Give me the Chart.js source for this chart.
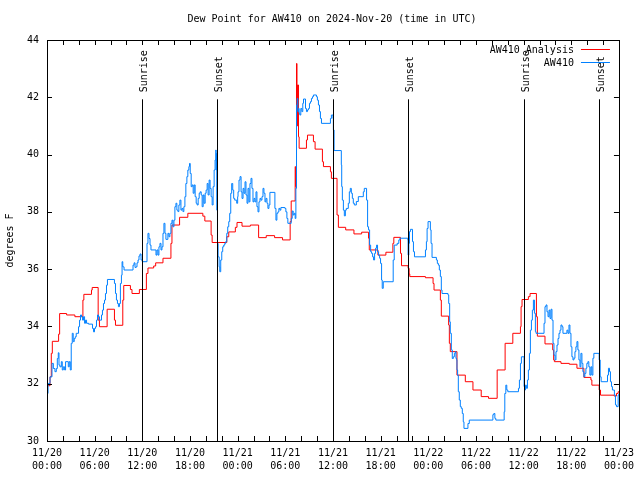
<!DOCTYPE html>
<html>
<head>
<meta charset="utf-8">
<title>Dew Point AW410</title>
<script src="https://cdn.jsdelivr.net/npm/chart.js@4/dist/chart.umd.min.js"></script>
<style>
	html, body { margin: 0; padding: 0; background: #fff; }
	#graph { display: block; }
</style>
</head>
<body>
<canvas id="graph" width="640" height="480"></canvas>
<script>
"use strict";

// hours since 2024-11-20 00:00 UTC, dew point in degrees F

// analysis (red) : [hour, value]
const analysis_points = [
	[0,31.93],[0.38,32.24],[0.54,33.06],[0.67,33.48],[1.46,33.73],[1.59,34.45],[2.47,34.40],[3.51,34.34],
	[4.52,34.92],[4.64,35.12],[5.6,35.27],[5.69,35.36],[6.44,34.22],[6.6,33.99],[7.57,34.6],[8.49,34.22],
	[8.62,34.04],[9.54,34.92],[9.66,35.43],[10.5,35.29],[10.7,35.15],[11.63,35.29],[12.51,35.85],[12.71,36.04],
	[13.43,36.11],[13.68,36.22],[14.6,36.38],[15.6,36.9],[15.73,37.54],[16.69,37.81],[17.73,37.95],[19.62,37.85],
	[19.87,37.68],[20.66,37.19],[20.79,36.93],[22.63,37.13],[22.88,37.30],[23.71,37.46],[23.92,37.63],[24.55,37.50],
	[25.6,37.54],[26.64,37.10],[27.6,37.17],[28.65,37.10],[29.65,37.02],[30.61,37.66],[30.74,38.38],[31.24,39.58],
	[31.30,38.88],[31.41,43.18],[31.47,41.0],[31.53,42.43],[31.66,40.62],[31.74,40.22],[32.66,40.51],[32.79,40.68],
	[33.54,40.45],[33.75,40.19],[34.67,39.75],[34.8,39.58],[35.68,39.40],[35.8,39.17],[36.51,37.89],[36.68,37.46],
	[37.6,37.37],[38.64,37.23],[39.61,37.29],[40.48,37.08],[40.57,36.67],[41.66,36.49],[42.66,36.59],[43.54,36.9],
	[43.66,37.11],[44.5,36.55],[44.63,36.12],[45.46,36.03],[45.59,35.83],[45.67,35.74],[47.64,35.70],[48.6,35.50],
	[48.72,35.27],[49.52,34.92],[49.64,34.36],[50.56,34.05],[50.65,33.41],[50.77,33.12],[51.61,32.30],[52.66,32.07],
	[53.62,31.78],[54.66,31.55],[55.58,31.49],[56.67,32.48],[57.67,33.41],[58.64,33.76],[59.6,33.99],[59.68,34.69],
	[59.8,34.94],[60.6,35.04],[60.81,35.15],[61.61,34.34],[61.73,33.66],[62.69,33.39],[63.66,33.18],[63.78,32.83],
	[63.87,32.77],[64.7,32.71],[65.75,32.68],[66.71,32.54],[67.59,32.22],[68.47,32.13],[68.59,31.95],[69.51,31.78],
	[69.68,31.60],[71.39,31.57],[71.69,31.66],[71.9,31.72],[72,31.72]
]

// station observations (blue) : [hour, value]
const station_points = [
	[0,30.90],[0.04,31.66],[0.13,32.01],[0.38,32.24],[0.63,32.71],[0.80,32.53],[1.00,32.42],[1.17,32.53],
	[1.30,32.88],[1.42,33.08],[1.51,32.65],[1.63,32.59],[1.80,32.77],[1.92,32.48],[2.05,32.59],[2.22,32.48],
	[2.34,32.77],[2.68,32.59],[2.80,32.77],[2.93,32.48],[3.05,33.41],[3.18,33.76],[3.30,33.47],[3.43,33.58],
	[3.56,33.64],[3.68,33.76],[3.97,33.99],[4.10,34.22],[4.22,34.40],[4.35,34.34],[4.48,34.22],[4.60,34.34],
	[4.73,34.11],[4.85,34.22],[4.98,34.11],[5.23,34.08],[5.73,33.93],[5.86,33.81],[5.98,33.93],[6.11,33.99],
	[6.23,34.22],[6.36,34.40],[6.48,34.34],[6.61,34.22],[6.86,34.40],[6.98,34.57],[7.11,34.80],[7.24,34.92],
	[7.36,35.15],[7.49,35.44],[7.61,35.64],[8.49,35.50],[8.62,35.15],[8.74,34.92],[8.87,34.80],[8.99,34.69],
	[9.12,34.80],[9.24,35.50],[9.37,35.79],[9.45,36.26],[9.54,36.08],[9.70,35.97],[10.83,36.14],[10.96,36.22],
	[11.08,36.06],[11.21,36.08],[11.33,36.22],[11.46,36.32],[11.58,36.46],[11.71,36.53],[11.84,36.32],[12.0,36.26],
	[12.59,36.90],[12.71,37.25],[12.84,37.07],[12.97,36.84],[13.09,36.67],[13.72,36.49],[13.84,36.67],[13.97,36.49],
	[14.09,36.78],[14.22,36.90],[14.35,36.67],[14.47,36.78],[14.6,37.25],[14.72,37.60],[14.85,37.25],[14.97,37.04],
	[15.22,37.25],[15.35,37.13],[15.47,37.25],[15.6,37.60],[15.73,37.71],[15.85,37.48],[15.98,37.71],[16.1,38.18],
	[16.23,38.30],[16.35,38.06],[16.48,38.01],[16.6,38.24],[16.73,38.41],[16.86,38.06],[16.98,38.12],[17.11,38.01],
	[17.23,38.18],[17.36,38.53],[17.48,38.99],[17.61,39.23],[17.73,39.46],[17.86,39.58],[17.94,39.69],[18.03,39.34],
	[18.15,38.88],[18.28,38.94],[18.40,38.65],[18.53,38.94],[18.65,38.53],[18.78,38.30],[18.9,38.24],[19.03,38.47],
	[19.16,38.65],[19.28,38.70],[19.41,38.59],[19.53,38.18],[19.66,38.59],[19.78,38.30],[19.91,38.65],[20.03,38.76],
	[20.16,38.99],[20.28,38.59],[20.41,39.11],[20.53,38.82],[20.66,38.53],[20.79,38.24],[20.91,38.88],[21.04,39.46],
	[21.16,39.81],[21.25,40.16],[21.29,39.46],[21.33,40.04],[21.37,38.06],[21.46,36.90],[21.54,36.43],[21.67,36.08],
	[21.75,35.91],[21.87,36.32],[22.0,36.61],[22.12,36.78],[22.25,36.84],[22.38,36.90],[22.5,36.96],[22.63,37.25],
	[22.75,37.48],[22.88,37.66],[23.0,37.95],[23.13,38.65],[23.25,38.99],[23.38,38.76],[23.5,38.47],[23.63,38.41],
	[23.88,38.30],[24.0,38.53],[24.05,38.70],[24.17,39.11],[24.3,39.23],[24.43,38.70],[24.55,38.47],[24.68,38.82],
	[24.8,38.65],[24.93,39.05],[25.05,38.59],[25.18,38.30],[25.30,38.82],[25.43,38.35],[25.55,38.99],[25.68,39.17],
	[25.8,38.82],[25.93,38.35],[26.06,38.47],[26.18,38.35],[26.31,38.70],[26.43,38.18],[26.56,38.0],[26.68,38.35],
	[26.81,38.47],[26.93,38.41],[27.06,38.53],[27.19,38.82],[27.31,38.65],[27.44,38.35],[27.56,38.47],[27.69,38.30],
	[27.81,38.12],[27.94,38.24],[28.06,38.68],[28.69,38.12],[28.82,37.71],[28.94,37.95],[29.07,38.0],[29.19,38.12],
	[29.32,38.06],[29.44,38.15],[29.95,38.12],[30.07,38.0],[30.2,37.77],[30.32,37.60],[30.74,37.77],[30.87,38.03],
	[30.99,37.89],[31.12,37.95],[31.24,37.77],[31.33,38.82],[31.41,41.73],[31.49,41.96],[31.58,41.50],[31.66,41.61],
	[31.74,41.44],[31.83,41.38],[31.95,41.61],[32.08,41.50],[32.2,41.79],[32.29,41.94],[32.54,41.61],[32.66,41.50],
	[32.79,41.56],[32.92,41.61],[33.04,41.79],[33.17,41.85],[33.29,41.96],[33.42,42.02],[33.54,42.08],[33.92,42.02],
	[34.04,41.90],[34.17,41.73],[34.3,41.50],[34.42,41.26],[34.55,41.09],[35.68,41.26],[35.8,41.38],[36.0,41.26],
	[36.05,40.86],[36.14,40.14],[37.05,39.64],[37.1,38.88],[37.18,38.41],[37.31,38.06],[37.43,37.86],[37.56,38.06],
	[37.68,38.12],[37.93,38.30],[38.06,38.70],[38.18,38.82],[38.31,38.65],[38.44,38.47],[38.56,38.30],[38.69,38.24],
	[38.94,38.36],[39.19,38.53],[39.82,38.70],[39.94,38.82],[40.23,38.41],[40.36,37.48],[40.48,37.37],[40.61,36.84],
	[40.74,36.61],[40.86,36.55],[40.99,36.43],[41.11,36.32],[41.24,36.55],[41.36,36.73],[41.49,36.84],[41.61,36.61],
	[41.74,36.49],[41.87,36.38],[41.99,36.20],[42.12,35.62],[42.2,35.33],[42.33,35.56],[43.58,36.32],[43.71,36.84],
	[44.08,36.90],[44.29,37.02],[44.42,37.08],[45.42,37.02],[45.46,36.49],[45.55,36.90],[45.63,37.31],[45.75,37.39],
	[46.01,36.96],[46.13,36.61],[46.26,36.43],[47.64,36.67],[47.76,36.96],[47.85,37.42],[47.97,37.66],[48.26,37.37],
	[48.35,36.90],[48.47,36.41],[49.02,36.32],[49.14,36.20],[49.27,36.14],[49.39,35.97],[49.52,35.74],[49.64,35.27],
	[49.73,35.15],[50.48,35.10],[50.57,34.80],[50.69,34.16],[50.77,33.76],[50.9,33.18],[51.02,32.88],[51.15,32.94],
	[51.28,33.06],[51.4,33.12],[51.48,32.88],[51.57,32.83],[51.61,32.48],[51.69,32.30],[51.78,31.72],[51.9,31.43],
	[52.03,31.20],[52.15,31.14],[52.28,30.96],[52.4,30.67],[52.49,30.44],[52.99,30.61],[53.16,30.73],[56.13,30.92],
	[56.25,30.96],[56.38,30.79],[56.5,30.73],[57.55,31.02],[57.63,31.66],[57.76,31.95],[57.88,31.78],[58.01,31.72],
	[59.35,31.84],[59.47,32.13],[59.6,32.71],[59.72,32.94],[60.06,31.90],[60.14,31.78],[60.23,31.95],[60.35,31.84],
	[60.48,32.13],[60.6,32.48],[60.73,33.06],[60.85,33.87],[60.98,34.22],[61.1,34.57],[61.23,34.92],[61.36,34.46],
	[61.48,33.82],[61.56,33.76],[62.57,34.11],[62.69,34.69],[62.82,34.75],[62.94,34.51],[63.07,34.34],[63.2,34.57],
	[63.32,34.28],[63.45,34.60],[63.57,34.22],[63.7,33.41],[63.82,33.00],[63.95,32.83],[64.07,33.12],[64.2,33.35],
	[64.33,33.58],[64.45,33.76],[64.58,33.87],[64.7,34.05],[64.83,33.99],[64.95,33.76],[65.45,33.87],[65.58,33.76],
	[65.71,34.05],[65.83,33.76],[65.96,33.29],[66.08,32.94],[66.21,32.83],[66.33,32.89],[66.46,33.12],[66.58,33.29],
	[66.71,33.47],[66.83,33.18],[66.96,32.83],[67.09,32.59],[67.21,33.06],[67.34,32.71],[67.46,32.42],[67.59,32.24],
	[67.71,32.36],[67.84,32.54],[67.96,32.71],[68.09,32.77],[68.21,32.59],[68.34,32.30],[68.47,32.59],[68.59,32.30],
	[68.72,32.89],[68.84,33.06],[69.51,32.83],[69.64,32.24],[69.76,32.07],[70.56,32.30],[70.68,32.54],[70.81,32.42],
	[70.93,32.07],[71.06,31.90],[71.18,31.78],[71.43,31.60],[71.56,31.26],[71.69,31.20],[71.9,31.60],[72,31.65]
]

// sunrise / sunset markers
const sun_event_hours	= [11.97, 21.4, 36.03, 45.45, 60.1, 69.47]
const sun_event_labels	= ['Sunrise', 'Sunset', 'Sunrise', 'Sunset', 'Sunrise', 'Sunset']

// axes
const x_label_hours	= [0, 6, 12, 18, 24, 30, 36, 42, 48, 54, 60, 66, 72]
const x_label_dates	= ['11/20','11/20','11/20','11/20','11/21','11/21','11/21','11/21','11/22','11/22','11/22','11/22','11/23']
const x_label_times	= ['00:00','06:00','12:00','18:00','00:00','06:00','12:00','18:00','00:00','06:00','12:00','18:00','00:00']
const x_minor_hours	= [0,2,4,6,8,10,12,14,16,18,20,22,24,26,28,30,32,34,36,38,40,42,44,46,48,50,52,54,56,58,60,62,64,66,68,70,72]
const y_tick_values	= [30, 32, 34, 36, 38, 40, 42, 44]

const series_labels	= ['AW410 Analysis', 'AW410']
const series_colors	= ['#ff0000', '#0080ff']

const TITLE		= 'Dew Point for AW410 on 2024-Nov-20 (time in UTC)'
const Y_TITLE	= 'degrees F'
const FONT_FAMILY	= '"DejaVu Sans Mono", "Liberation Mono", monospace'
const FONT		= '10px ' + FONT_FAMILY


// frame, inward ticks, sun lines, legend and titles (gnuplot look)
const frame_plugin = {
	id : 'frame',
	afterDatasetsDraw : function(chart) {
		const ctx	= chart.ctx
		const area	= chart.chartArea
		const xs	= chart.scales.x
		const ys	= chart.scales.y
		const crisp	= (v) => Math.round(v) + 0.5

		ctx.save()
		ctx.strokeStyle	= '#000'
		ctx.fillStyle	= '#000'
		ctx.lineWidth	= 1
		ctx.font		= FONT

		// sunrise / sunset lines
			const line_top = ys.getPixelForValue(42) + 2
			sun_event_hours.forEach((h, i) => {
				const x = crisp(xs.getPixelForValue(h))
				ctx.beginPath()
				ctx.moveTo(x, line_top)
				ctx.lineTo(x, area.bottom)
				ctx.stroke()

				ctx.save()
				ctx.translate(x + 2, line_top - 7)
				ctx.rotate(-Math.PI / 2)
				ctx.textAlign		= 'left'
				ctx.textBaseline	= 'middle'
				ctx.fillText(sun_event_labels[i], 0, 0)
				ctx.restore()
			})

		// border
			ctx.strokeRect(crisp(area.left), crisp(area.top), Math.round(area.right - area.left), Math.round(area.bottom - area.top))

		// inward ticks
			const tl = 5
			ctx.beginPath()
			x_minor_hours.forEach((h) => {
				const x = crisp(xs.getPixelForValue(h))
				ctx.moveTo(x, area.bottom)
				ctx.lineTo(x, area.bottom - tl)
				ctx.moveTo(x, area.top)
				ctx.lineTo(x, area.top + tl)
			})
			y_tick_values.forEach((v) => {
				const y = crisp(ys.getPixelForValue(v))
				ctx.moveTo(area.left, y)
				ctx.lineTo(area.left + tl, y)
				ctx.moveTo(area.right, y)
				ctx.lineTo(area.right - tl, y)
			})
			ctx.stroke()

		// title
			ctx.textAlign		= 'center'
			ctx.textBaseline	= 'middle'
			ctx.fillText(TITLE, (area.left + area.right) / 2 - 1, 19)

		// y axis title
			ctx.save()
			ctx.translate(10, (area.top + area.bottom) / 2)
			ctx.rotate(-Math.PI / 2)
			ctx.fillText(Y_TITLE, 0, 0)
			ctx.restore()

		// legend
			const legend_right	= area.right - 45
			const legend_rows	= [50, 63]
			series_labels.forEach((label, i) => {
				const y = legend_rows[i]
				ctx.textAlign		= 'right'
				ctx.textBaseline	= 'middle'
				ctx.fillStyle		= '#000'
				ctx.fillText(label, legend_right, y)
				ctx.strokeStyle = series_colors[i]
				ctx.beginPath()
				ctx.moveTo(legend_right + 7, Math.round(y) - 0.5)
				ctx.lineTo(legend_right + 36, Math.round(y) - 0.5)
				ctx.stroke()
			})

		ctx.restore()
	}
}


const canvas = document.getElementById('graph')

const to_xy = (points) => points.map((p) => ({x: p[0], y: p[1]}))

const chart = new Chart(canvas, {
	type : 'line',
	data : {
		datasets : [
			{
				label		: series_labels[1],
				data		: to_xy(station_points),
				borderColor	: series_colors[1],
				borderWidth	: 1,
				stepped		: true,
				pointRadius	: 0,
				fill		: false,
				order		: 0
			},
			{
				label		: series_labels[0],
				data		: to_xy(analysis_points),
				borderColor	: series_colors[0],
				borderWidth	: 1,
				stepped		: true,
				pointRadius	: 0,
				fill		: false,
				order		: 1
			}
		]
	},
	options : {
		responsive			: false,
		animation			: false,
		devicePixelRatio	: 1,
		layout : {
			padding : { left: 0, right: 19, top: 40, bottom: 0 }
		},
		scales : {
			x : {
				type	: 'linear',
				min		: 0,
				max		: 72,
				afterBuildTicks : (scale) => {
					scale.ticks = x_label_hours.map((v) => ({value: v}))
				},
				afterFit : (scale) => { scale.height = 39 },
				grid	: { display: false, drawTicks: false },
				border	: { display: false },
				ticks	: {
					color		: '#000',
					font		: { family: FONT_FAMILY, size: 10, lineHeight: 1.3 },
					padding		: 6,
					maxRotation	: 0,
					autoSkip	: false,
					callback	: (value) => {
						const i = x_label_hours.indexOf(value)
						return i < 0 ? '' : [x_label_dates[i], x_label_times[i]]
					}
				}
			},
			y : {
				type	: 'linear',
				min		: 30,
				max		: 44,
				afterBuildTicks : (scale) => {
					scale.ticks = y_tick_values.map((v) => ({value: v}))
				},
				afterFit : (scale) => { scale.width = 47 },
				grid	: { display: false, drawTicks: false },
				border	: { display: false },
				ticks	: {
					color	: '#000',
					font	: { family: FONT_FAMILY, size: 10 },
					padding	: 8
				}
			}
		},
		plugins : {
			legend	: { display: false },
			title	: { display: false },
			tooltip	: { enabled: false }
		}
	},
	plugins : [frame_plugin]
})
</script>
</body>
</html>
